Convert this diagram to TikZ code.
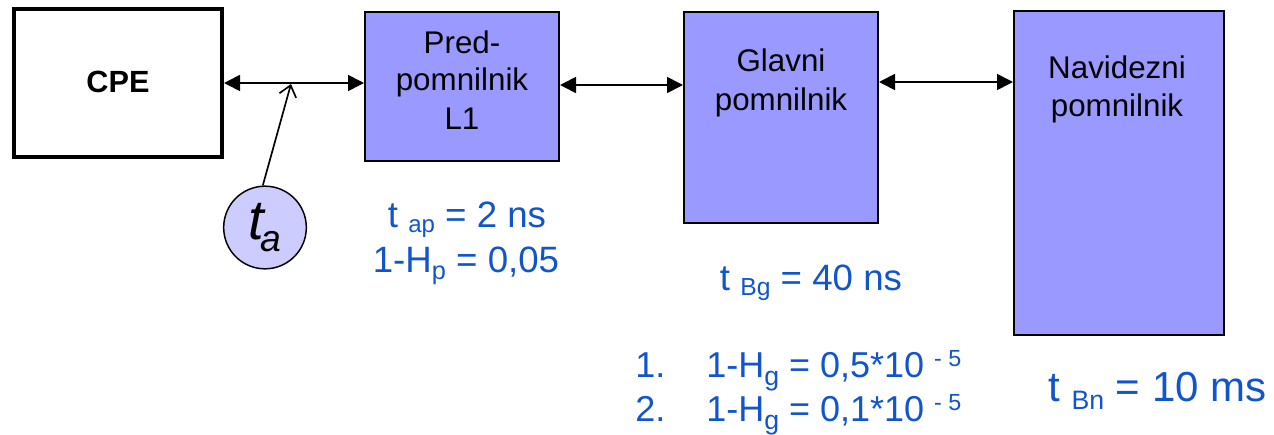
\documentclass[tikz,border=0pt]{standalone}
\usepackage{fontspec}
\setmainfont{Liberation Sans}
\usetikzlibrary{arrows.meta}
\definecolor{boxfill}{RGB}{153,153,255}
\definecolor{circfill}{RGB}{204,204,255}
\definecolor{valblue}{RGB}{17,85,204}
\newcommand{\fsz}[2]{\fontsize{#1}{#2}\selectfont}
\newcommand{\lsub}[3]{\raisebox{-#2}{\fsz{#1}{#1}#3}}
\newcommand{\hsup}[3]{\raisebox{#2}{\fsz{#1}{#1}#3}}
\begin{document}
\begin{tikzpicture}[x=0.75pt,y=-0.75pt,
  blockbox/.style={draw=black, line width=1.5pt, fill=boxfill, inner sep=0pt},
  cpebox/.style={draw=black, line width=3pt, fill=white, inner sep=0pt},
  blocktext/.style={align=center, font=\fsz{23.5}{28.5}, anchor=base, inner sep=0pt},
  valtext/.style={text=valblue, anchor=base, inner sep=0pt},
  biarrow/.style={line width=1.25pt, {Triangle[length=12pt,width=12pt]}-{Triangle[length=12pt,width=12pt]}},
  probe/.style={line width=1.25pt, -{Straight Barb[length=8pt,width=13pt]}}
]
\useasboundingbox (0,0) rectangle (1274,435);
% boxes
\node[cpebox, minimum width=156pt, minimum height=111pt] (cpe) at (118,83) {};
\node[blockbox, minimum width=145.5pt, minimum height=111.75pt] (l1) at (462,86.5) {};
\node[blockbox, minimum width=145.5pt, minimum height=158.25pt] (gl) at (781,117.5) {};
\node[blockbox, minimum width=157.5pt, minimum height=243pt] (nav) at (1119,173) {};
% box texts (anchor base = baseline of the last line)
\node[font=\bfseries\fsz{23}{27}, anchor=base, inner sep=0pt] (cpet) at (118,93) {CPE};
\node[blocktext] (l1t) at (462,129) {Pred-\\pomnilnik\\L1};
\node[blocktext] (glt) at (781,110) {Glavni\\pomnilnik};
\node[blocktext] (navt) at (1117,117) {Navidezni\\pomnilnik};
% connectors
\draw[biarrow] (cpe.east) -- (cpe.east -| l1.west);
\draw[biarrow] ([yshift=1.125pt]l1.east) -- ([yshift=1.125pt]l1.east -| gl.west);
\draw[biarrow] ([yshift=26.625pt]gl.east) -- ([yshift=26.625pt]gl.east -| nav.west);
% access time probe
\node[circle, draw=black, line width=1.1pt, fill=circfill, minimum size=62pt, inner sep=0pt] (ta)
  at (265,227.5) {\itshape\fsz{42}{42}t\kern-3pt\lsub{28}{9pt}{a}};
\coordinate (tapt) at (291,84);
\draw[probe] (ta.93) -- (tapt);
% values
\node[valtext, font=\fsz{27.5}{32}] (vap) at (467,227) {t \lsub{18}{4pt}{ap} = 2 ns};
\node[valtext, font=\fsz{27.5}{32}] (vhp) at (466,272) {1-H\lsub{19}{5.5pt}{p} = 0,05};
\node[valtext, font=\fsz{27.5}{32}] (vbg) at (811,290) {t \lsub{18.5}{4pt}{Bg} = 40 ns};
\node[valtext, anchor=base west, font=\fsz{27}{31}] (n1) at (635,377) {1.};
\node[valtext, anchor=base west, font=\fsz{27}{31}] (h1) at (706,377) {1-H\lsub{20}{6pt}{g} = 0,5*10 \hsup{17.5}{8pt}{- 5}};
\node[valtext, anchor=base west, font=\fsz{27}{31}] (n2) at (635,421) {2.};
\node[valtext, anchor=base west, font=\fsz{27}{31}] (h2) at (706,421) {1-H\lsub{20}{6pt}{g} = 0,1*10 \hsup{17.5}{8pt}{- 5}};
\node[valtext, anchor=base west, font=\fsz{31.5}{36}] (vbn) at (1048,401) {t \lsub{20}{6.5pt}{Bn} = 10 ms};
\end{tikzpicture}
\end{document}
